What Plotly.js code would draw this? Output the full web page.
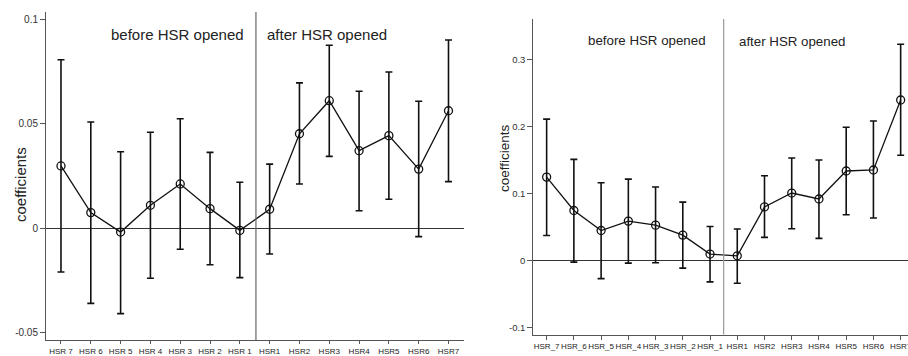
<!DOCTYPE html>
<html>
<head>
<meta charset="utf-8">
<script src="https://cdn.plot.ly/plotly-3.0.1.min.js"></script>
<style>html,body{margin:0;padding:0;background:#fff;}#chart{width:908px;height:356px;}</style>
</head>
<body>
<div id="chart"></div>
<script>
// Categories (event-time dummies)
const categories = ["HSR_7","HSR_6","HSR_5","HSR_4","HSR_3","HSR_2","HSR_1","HSR1","HSR2","HSR3","HSR4","HSR5","HSR6","HSR7"];
const tickLabelsLeft = ["HSR 7","HSR 6","HSR 5","HSR 4","HSR 3","HSR 2","HSR 1","HSR1","HSR2","HSR3","HSR4","HSR5","HSR6","HSR7"];
const tickLabelsRight = ["HSR_7","HSR_6","HSR_5","HSR_4","HSR_3","HSR_2","HSR_1","HSR1","HSR2","HSR3","HSR4","HSR5","HSR6","HSR7"];

// Left panel: coefficients and 95% CI bounds
const coefLeft  = [0.0298, 0.0075, -0.0018, 0.0110, 0.0212, 0.0094, -0.0010, 0.0091, 0.0452, 0.0610, 0.0371, 0.0443, 0.0283, 0.0562];
const upperLeft = [0.0806, 0.0508, 0.0366, 0.0459, 0.0524, 0.0363, 0.0220, 0.0307, 0.0695, 0.0875, 0.0655, 0.0747, 0.0607, 0.0900];
const lowerLeft = [-0.0209, -0.0359, -0.0408, -0.0239, -0.0100, -0.0174, -0.0236, -0.0123, 0.0212, 0.0344, 0.0084, 0.0139, -0.0040, 0.0223];

// Right panel: coefficients and 95% CI bounds
const coefRight  = [0.1245, 0.0746, 0.0448, 0.0588, 0.0528, 0.0379, 0.0096, 0.0070, 0.0800, 0.1007, 0.0918, 0.1336, 0.1351, 0.2395];
const upperRight = [0.2110, 0.1510, 0.1160, 0.1215, 0.1096, 0.0872, 0.0507, 0.0470, 0.1265, 0.1530, 0.1500, 0.1988, 0.2082, 0.3227];
const lowerRight = [0.0373, -0.0024, -0.0270, -0.0039, -0.0034, -0.0113, -0.0318, -0.0340, 0.0346, 0.0475, 0.0331, 0.0684, 0.0634, 0.1570];

const yTicksLeft = [-0.05, 0, 0.05, 0.1];
const yTickTextLeft = ["-0.05", "0", "0.05", "0.1"];
const yTicksRight = [-0.1, 0, 0.1, 0.2, 0.3];
const yTickTextRight = ["-0.1", "0", "0.1", "0.2", "0.3"];

const W = 908, H = 356;
const px = v => v / W;
const py = v => (H - v) / H;

function mkTrace(coef, up, lo, xa, ya) {
  return {
    x: categories, y: coef, xaxis: xa, yaxis: ya,
    type: 'scatter', mode: 'lines+markers',
    line: {color: '#111', width: 1.3},
    marker: {symbol: 'circle-open', size: 8, color: '#111', line: {width: 1.3, color: '#111'}},
    error_y: {
      type: 'data', symmetric: false,
      array: up.map((u, i) => u - coef[i]),
      arrayminus: lo.map((l, i) => coef[i] - l),
      color: '#111', thickness: 1.6, width: 3.5
    },
    showlegend: false, hoverinfo: 'x+y'
  };
}

const data = [
  mkTrace(coefLeft, upperLeft, lowerLeft, 'x', 'y'),
  mkTrace(coefRight, upperRight, lowerRight, 'x2', 'y2')
];

const tickFontX = {family: 'Liberation Sans, Arial, sans-serif', size: 8, color: '#222'};
const commonX = {
  type: 'category', showgrid: false, zeroline: false,
  showline: true, linecolor: '#555', linewidth: 1,
  ticks: 'outside', ticklen: 4, tickcolor: '#555', tickwidth: 1,
  tickfont: tickFontX, tickmode: 'array', tickvals: categories, tickangle: 0
};
const commonY = {
  showgrid: false, zeroline: true, zerolinecolor: '#333', zerolinewidth: 1,
  showline: true, linecolor: '#555', linewidth: 1,
  ticks: 'outside', ticklen: 5, tickcolor: '#555', tickwidth: 1,
  tickmode: 'array'
};

const layout = {
  width: W, height: H,
  margin: {l: 0, r: 0, t: 0, b: 0},
  paper_bgcolor: '#fff', plot_bgcolor: '#fff',
  font: {family: 'Liberation Sans, Arial, sans-serif', color: '#222'},
  xaxis: Object.assign({}, commonX, {
    domain: [px(46), px(464)], range: [-0.503, 13.52],
    ticktext: tickLabelsLeft, anchor: 'y', ticklen: 3
  }),
  yaxis: Object.assign({}, commonY, {
    domain: [py(340), py(12)], range: [-0.0534, 0.1034],
    tickvals: yTicksLeft, ticktext: yTickTextLeft, anchor: 'x',
    tickfont: {family: 'Liberation Sans, Arial, sans-serif', size: 10, color: '#333'}
  }),
  xaxis2: Object.assign({}, commonX, {
    domain: [px(533.3), 1], range: [-0.49, 13.27],
    ticktext: tickLabelsRight, anchor: 'y2'
  }),
  yaxis2: Object.assign({}, commonY, {
    domain: [py(334.5), py(19)], range: [-0.1104, 0.3604],
    tickvals: yTicksRight, ticktext: yTickTextRight, anchor: 'x2',
    tickfont: {family: 'Liberation Sans, Arial, sans-serif', size: 9.5, color: '#333'}
  }),
  shapes: [
    {type: 'line', xref: 'x', yref: 'y domain', x0: 6.54, x1: 6.54, y0: 0, y1: 1,
     line: {color: '#666', width: 1.2}},
    {type: 'line', xref: 'x2', yref: 'y2 domain', x0: 6.5, x1: 6.5, y0: 0, y1: 1,
     line: {color: '#999', width: 1.2}}
  ],
  annotations: [
    {text: 'before HSR opened', xref: 'paper', yref: 'paper', x: px(246), y: py(34),
     xanchor: 'right', yanchor: 'middle', showarrow: false,
     font: {family: 'Liberation Sans, Arial, sans-serif', size: 15, color: '#222'}},
    {text: 'after HSR opened', xref: 'paper', yref: 'paper', x: px(265), y: py(34),
     xanchor: 'left', yanchor: 'middle', showarrow: false,
     font: {family: 'Liberation Sans, Arial, sans-serif', size: 15, color: '#222'}},
    {text: 'before HSR opened', xref: 'paper', yref: 'paper', x: px(708), y: py(40),
     xanchor: 'right', yanchor: 'middle', showarrow: false,
     font: {family: 'Liberation Sans, Arial, sans-serif', size: 13.3, color: '#222'}},
    {text: 'after HSR opened', xref: 'paper', yref: 'paper', x: px(736.7), y: py(41),
     xanchor: 'left', yanchor: 'middle', showarrow: false,
     font: {family: 'Liberation Sans, Arial, sans-serif', size: 13.3, color: '#222'}},
    {text: 'coefficients', xref: 'paper', yref: 'paper', x: px(20), y: py(185),
     xanchor: 'center', yanchor: 'middle', textangle: -90, showarrow: false,
     font: {family: 'Liberation Sans, Arial, sans-serif', size: 15, color: '#222'}},
    {text: 'coefficients', xref: 'paper', yref: 'paper', x: px(504), y: py(158),
     xanchor: 'center', yanchor: 'middle', textangle: -90, showarrow: false,
     font: {family: 'Liberation Sans, Arial, sans-serif', size: 13.5, color: '#222'}}
  ]
};

Plotly.newPlot('chart', data, layout, {displayModeBar: false, staticPlot: true});
</script>
</body>
</html>
